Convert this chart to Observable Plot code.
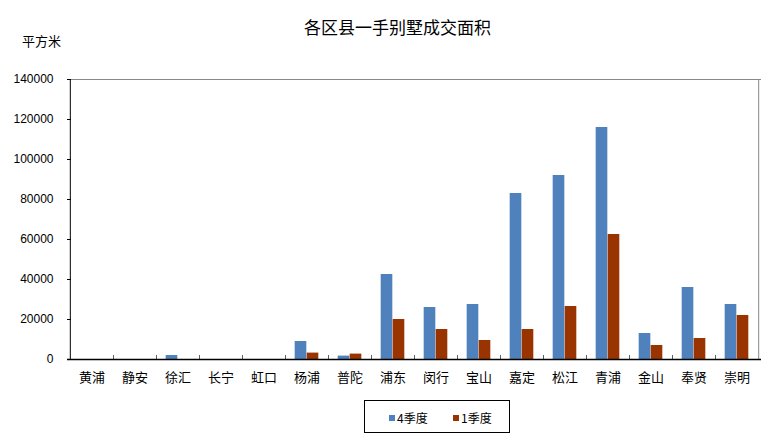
<!DOCTYPE html>
<html><head><meta charset="utf-8">
<script src="https://cdn.jsdelivr.net/npm/d3@7"></script>
<script src="https://cdn.jsdelivr.net/npm/@observablehq/plot@0.6"></script>
<style>
body{margin:0;background:#fff;font-family:"Liberation Sans","Noto Sans CJK SC",sans-serif;}
#wrap{position:relative;width:771px;height:445px;overflow:hidden;}
#title{position:absolute;left:0;width:795px;top:14px;text-align:center;font-size:17px;font-family:"Noto Sans CJK SC",sans-serif;}
#unit{position:absolute;left:22px;top:31px;font-size:13px;font-family:"Noto Sans CJK SC",sans-serif;}
#legend{position:absolute;left:364px;top:400px;width:144px;height:31px;border:1px solid #000;box-sizing:content-box;font-size:12px;font-family:"Noto Sans CJK SC",sans-serif;}
.li{position:absolute;top:8px;display:flex;align-items:center;}
.sw{width:6px;height:6px;margin-right:2px;}
#chart{position:absolute;left:0;top:0;}
</style></head>
<body><div id="wrap"><div id="chart"></div><div id="title"></div><div id="unit"></div><div id="legend"></div></div>
<script>
const title = "各区县一手别墅成交面积";
const unit = "平方米";
const districts = ["黄浦","静安","徐汇","长宁","虹口","杨浦","普陀","浦东","闵行","宝山","嘉定","松江","青浦","金山","奉贤","崇明"];
const seriesNames = ["4季度","1季度"];
const q4 = [0,0,2000,0,0,9000,1700,42500,26000,27500,83000,92000,116000,13000,36000,27500];
const q1 = [0,0,0,0,0,3200,2700,20000,15000,9500,15000,26500,62500,7000,10500,22000];
const yTicks = [0,20000,40000,60000,80000,100000,120000,140000];
const colors = ["#4F81BD","#993300"];

document.getElementById("title").textContent = title;
document.getElementById("unit").textContent = unit;
const lg = document.getElementById("legend");
seriesNames.forEach((s,i)=>{
  const d=document.createElement("div"); d.className="li"; d.style.left=(i?88:24)+"px";
  d.innerHTML=`<span class="sw" style="background:${colors[i]}"></span><span>${s}</span>`;
  lg.appendChild(d);
});

const W=771,H=445,mL=67,mR=10,mT=79,mB=86;
const bw=(W-mL-mR)/districts.length;
const barW=12;
const side=(bw-2*barW)/2;
const rows=[];
districts.forEach((d,i)=>{rows.push({d,s:seriesNames[0],v:q4[i]});rows.push({d,s:seriesNames[1],v:q1[i]});});

const chart = Plot.plot({
  width:W,height:H,marginLeft:mL,marginRight:mR,marginTop:mT,marginBottom:mB,
  style:{fontFamily:"'Liberation Sans','Noto Sans CJK SC',sans-serif",background:"transparent"},
  x:{domain:districts,padding:0,label:null},
  y:{domain:[0,140000],label:null},
  marks:[
    Plot.ruleY([140000],{stroke:"#888"}),
    Plot.ruleX([districts[districts.length-1]],{stroke:"#888",dx:bw/2}),
    Plot.barY(rows.filter(r=>r.s===seriesNames[0]),{x:"d",y:"v",fill:colors[0],insetLeft:side,insetRight:side+barW}),
    Plot.barY(rows.filter(r=>r.s===seriesNames[1]),{x:"d",y:"v",fill:colors[1],insetLeft:side+barW,insetRight:side}),
    Plot.barY(districts.slice(1),{x:d=>d,y1:0,y2:2000,fill:"#000",insetLeft:0,insetRight:bw-1}),
    Plot.axisY({ticks:yTicks,tickSize:-4,tickPadding:18,tickFormat:d=>String(d),fontSize:12,label:null,stroke:"#000",fill:"#000"}),
    Plot.axisX({tickSize:0,tickPadding:13,fontSize:13,label:null,fontFamily:"'Noto Sans CJK SC',sans-serif",fill:"#000"}),
    Plot.ruleY([0],{stroke:"#000",strokeWidth:1.5}),
    Plot.ruleX([districts[0]],{stroke:"#000",dx:-bw/2,y1:0,y2:140000})
  ]
});
document.getElementById("chart").appendChild(chart);
</script></body></html>
